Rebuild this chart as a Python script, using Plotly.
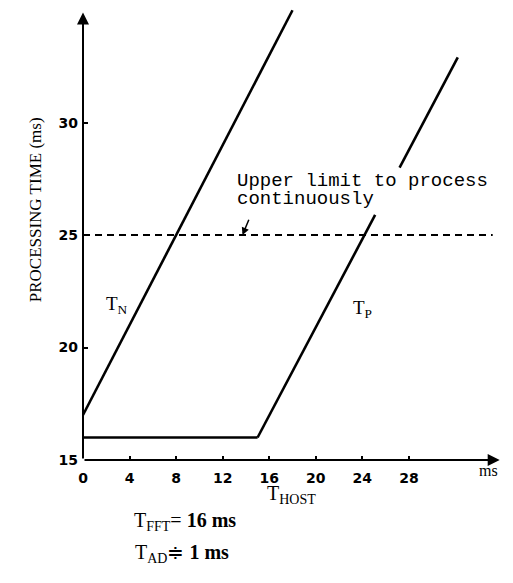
import plotly.graph_objects as go

# Data
tn_x = [0, 18.0]
tn_y = [17, 35.0]
tp_flat_x = [0, 15]
tp_flat_y = [16, 16]
tp_low_x = [15, 25.1]
tp_low_y = [16, 25.9]
tp_high_x = [27.2, 32.2]
tp_high_y = [28.0, 32.9]
limit_x = [0, 35.2]
limit_y = [25, 25]
x_ticks = [0, 4, 8, 12, 16, 20, 24, 28]
y_ticks = [15, 20, 25, 30]

# page body has an 8px margin, so the figure is drawn 8px smaller and offset
OFF = 8
W, H = 505, 575
L, R, T, B = 75, 11, 0, 122.5
PW, PH = W - L - R, H - T - B


def px(xp):
    return (xp - OFF - L) / PW


def py(yp):
    return (H - B - (yp - OFF)) / PH


fig = go.Figure()
line = dict(color="black", width=2.6)
fig.add_trace(go.Scatter(x=tn_x, y=tn_y, mode="lines", line=line))
fig.add_trace(go.Scatter(x=tp_flat_x, y=tp_flat_y, mode="lines", line=line))
fig.add_trace(go.Scatter(x=tp_low_x, y=tp_low_y, mode="lines", line=line))
fig.add_trace(go.Scatter(x=tp_high_x, y=tp_high_y, mode="lines", line=line))
fig.add_trace(go.Scatter(x=limit_x, y=limit_y, mode="lines",
                         line=dict(color="black", width=2, dash="7px,5px")))

tick_font = dict(family="DejaVu Sans", size=14, color="black", weight="bold")
mono = "Liberation Mono"
serif = "Liberation Serif"

ann = []
# axes with arrows
ann.append(dict(x=35.8, y=15, ax=0, ay=15, xref="x", yref="y", axref="x", ayref="y",
                showarrow=True, arrowhead=2, arrowsize=1.2, arrowwidth=2, arrowcolor="black", text=""))
ann.append(dict(x=0, y=34.9, ax=0, ay=15, xref="x", yref="y", axref="x", ayref="y",
                showarrow=True, arrowhead=2, arrowsize=1.2, arrowwidth=2, arrowcolor="black", text=""))
# pointer
ann.append(dict(x=13.7, y=25.0, ax=14.3, ay=25.75, xref="x", yref="y", axref="x", ayref="y",
                showarrow=True, arrowhead=2, arrowsize=1, arrowwidth=1.5, arrowcolor="black", text=""))
ann.append(dict(x=13.05, y=27.4, xref="x", yref="y", text="Upper limit to process", showarrow=False,
                xanchor="left", font=dict(family=mono, size=19, color="black")))
ann.append(dict(x=13.05, y=26.6, xref="x", yref="y", text="continuously", showarrow=False,
                xanchor="left", font=dict(family=mono, size=19, color="black")))
ann.append(dict(x=2.9, y=21.9, xref="x", yref="y", text="T<sub>N</sub>", showarrow=False,
                font=dict(family=serif, size=19, color="black")))
ann.append(dict(x=24.0, y=21.7, xref="x", yref="y", text="T<sub>P</sub>", showarrow=False,
                font=dict(family=serif, size=19, color="black")))
ann.append(dict(x=px(500), y=py(482), xref="paper", yref="paper", text="ms", showarrow=False,
                font=dict(family=serif, size=16, color="black")))
ann.append(dict(x=px(291), y=py(510), xref="paper", yref="paper", text="T<sub>HOST</sub>", showarrow=False,
                font=dict(family=serif, size=20, color="black")))
ann.append(dict(x=px(132), y=py(537), xref="paper", yref="paper", text="T<sub>FFT</sub>= <b>16 ms</b>",
                showarrow=False, xanchor="left", font=dict(family=serif, size=20, color="black")))
ann.append(dict(x=px(133), y=py(569), xref="paper", yref="paper", text="T<sub>AD</sub>≑ <b>1 ms</b>",
                showarrow=False, xanchor="left", font=dict(family=serif, size=20, color="black")))
ann.append(dict(x=px(24), y=py(210), xref="paper", yref="paper", text="PROCESSING TIME (ms)",
                showarrow=False, textangle=-90, font=dict(family=serif, size=17, color="black")))

fig.update_layout(
    width=W, height=H,
    margin=dict(l=L, r=R, t=T, b=B),
    paper_bgcolor="white", plot_bgcolor="white",
    showlegend=False,
    annotations=ann,
    xaxis=dict(range=[0, 36], tickvals=x_ticks, ticktext=[str(v) for v in x_ticks],
               showgrid=False, zeroline=False, showline=False, automargin=False,
               ticks="inside", ticklen=4, tickwidth=2, tickcolor="black",
               ticklabelstandoff=8, tickfont=tick_font),
    yaxis=dict(range=[15, 35.1], tickvals=y_ticks, ticktext=[str(v) for v in y_ticks],
               showgrid=False, zeroline=False, showline=False, automargin=False,
               ticks="inside", ticklen=5, tickwidth=2, tickcolor="black",
               ticklabelstandoff=4, tickfont=tick_font),
)

fig.write_html("out.html")
